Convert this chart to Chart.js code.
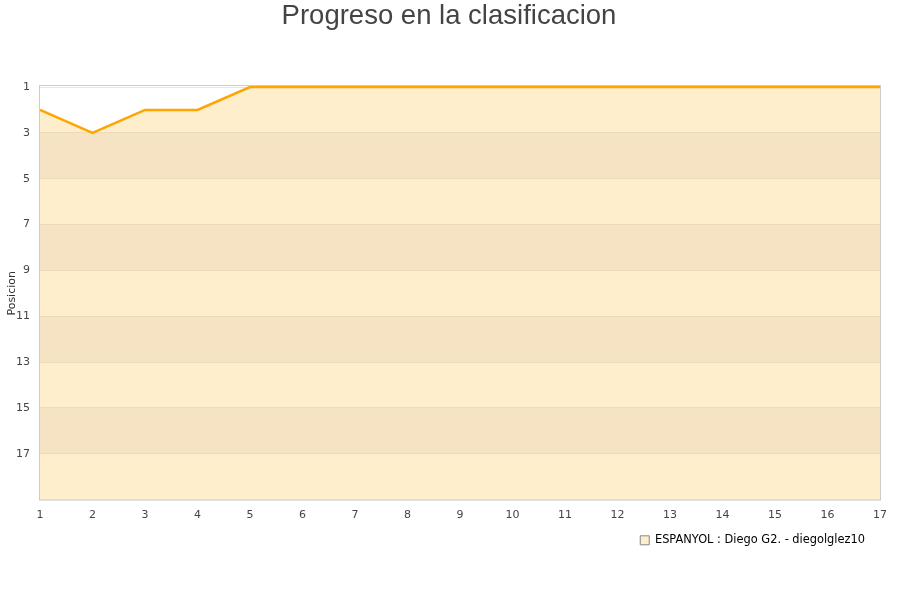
<!DOCTYPE html>
<html>
<head>
<meta charset="utf-8">
<script src="https://cdn.jsdelivr.net/npm/chart.js@4.4.0/dist/chart.umd.min.js"></script>
<style>
  body { margin: 0; background: #fff; }
</style>
</head>
<body>
<canvas id="graphClasificacion" width="900" height="600"></canvas>
<script>
const jornadas = ['1','2','3','4','5','6','7','8','9','10','11','12','13','14','15','16','17'];
const posiciones = [2, 3, 2, 2, 1, 1, 1, 1, 1, 1, 1, 1, 1, 1, 1, 1, 1];
const bandasOscuras = [3, 7, 11, 15];
const equipo = 'ESPANYOL : Diego G2. - diegolglez10';

const bandas = {
  id: 'bandas',
  afterLayout(chart) {
    // titulo centrado en todo el ancho, leyenda un poco mas a la izquierda
    chart.titleBlock.right += 18;
    chart.legend.right -= 5;
  },
  beforeDraw(chart) {
    const ctx = chart.ctx;
    const area = chart.chartArea;
    const y = chart.scales.y;
    ctx.save();
    ctx.fillStyle = '#F4F2F4';
    bandasOscuras.forEach(v => {
      const a = y.getPixelForValue(v);
      const b = y.getPixelForValue(v + 2);
      ctx.fillRect(area.left, a, area.right - area.left, b - a);
    });
    ctx.restore();
  },
  afterDraw(chart) {
    const ctx = chart.ctx;
    const a = chart.chartArea;
    ctx.save();
    ctx.strokeStyle = '#CCCCCC';
    ctx.lineWidth = 1;
    ctx.strokeRect(a.left - 0.5, a.top - 1.5, a.right - a.left + 1, a.bottom - a.top + 2);
    ctx.restore();
  }
};

const ctx = document.getElementById('graphClasificacion');
const grafico = new Chart(ctx, {
  type: 'line',
  data: {
    labels: jornadas,
    datasets: [{
      label: equipo,
      data: posiciones,
      borderColor: '#FFA500',
      borderWidth: 2.5,
      backgroundColor: 'rgba(255,170,0,0.2)',
      fill: { value: 19 },
      pointRadius: 0,
      tension: 0,
      clip: false
    }]
  },
  options: {
    responsive: false,
    animation: false,
    layout: { padding: { left: 0, right: 20, top: 0, bottom: 44 } },
    plugins: {
      title: {
        display: true,
        text: 'Progreso en la clasificacion',
        color: '#444',
        font: { family: 'Liberation Sans', size: 27.5, weight: 'normal' },
        padding: { top: 0, bottom: 54 }
      },
      legend: {
        position: 'bottom',
        align: 'end',
        labels: {
          color: '#000',
          font: { family: 'DejaVu Sans', size: 11.4 },
          boxWidth: 9,
          boxHeight: 9,
          padding: 10,
          generateLabels: () => [{
            text: equipo,
            fillStyle: '#FFEDCC',
            strokeStyle: '#888',
            lineWidth: 1,
            datasetIndex: 0
          }]
        }
      },
      tooltip: { enabled: false }
    },
    scales: {
      x: {
        offset: false,
        grid: { display: false },
        border: { display: false },
        ticks: {
          color: '#444',
          font: { family: 'DejaVu Sans', size: 11 },
          padding: 1,
          maxRotation: 0,
          autoSkip: false
        },
        afterFit: s => { s.height = 25; }
      },
      y: {
        reverse: true,
        min: 1,
        max: 19,
        grid: { color: '#E8E6EA', drawTicks: false },
        border: { display: false },
        ticks: {
          stepSize: 2,
          color: '#444',
          font: { family: 'DejaVu Sans', size: 11 },
          padding: 10,
          callback: v => (v === 19 ? '' : v)
        },
        title: {
          display: true,
          text: 'Posicion',
          color: '#333',
          font: { family: 'DejaVu Sans', size: 11 },
          padding: { top: 6, bottom: 0 }
        },
        afterFit: s => { s.width = 40; }
      }
    }
  },
  plugins: [bandas]
});
</script>
</body>
</html>
